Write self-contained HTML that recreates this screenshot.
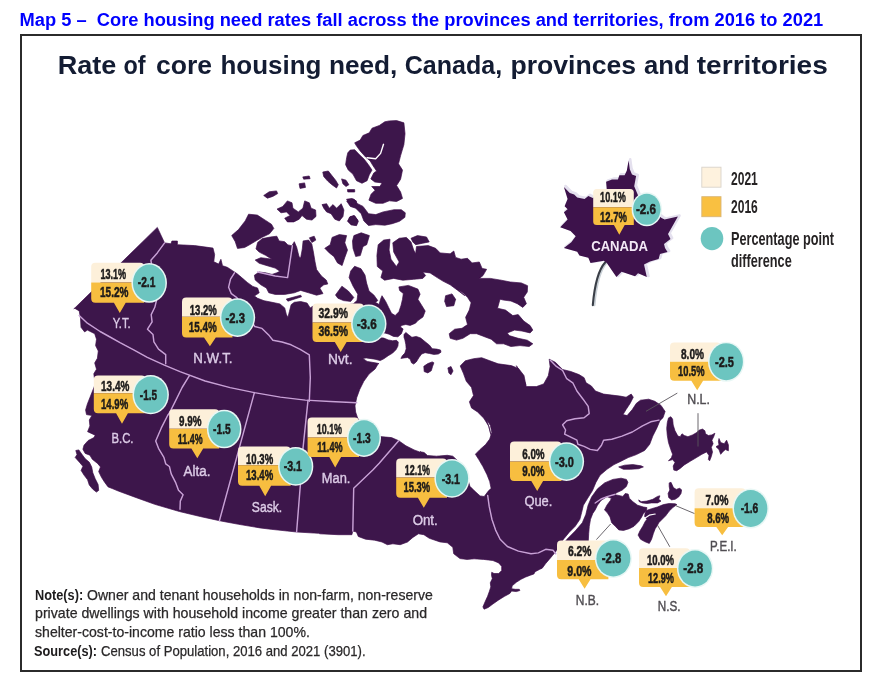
<!DOCTYPE html>
<html lang="en"><head><meta charset="utf-8"><title>Map 5</title>
<style>
html,body{margin:0;padding:0;background:#fff}
body{width:878px;height:682px;position:relative;overflow:hidden;font-family:"Liberation Sans",sans-serif}
.t,.h,.lg,.nt,svg{opacity:.999;will-change:opacity}
.t{position:absolute;left:19.6px;top:8.7px;font-weight:700;font-size:18.3px;line-height:21px;color:#0000ff;white-space:pre}
.frame{position:absolute;box-sizing:border-box;left:20.2px;top:34.3px;width:841.8px;height:638.2px;border:2px solid #2b2b2b}
.h{position:absolute;left:58.6px;top:50.3px;font-weight:700;font-size:25px;line-height:30px;letter-spacing:.73px;color:#131c33;white-space:pre}
.lg{position:absolute;left:730.6px;font-weight:700;font-size:17.6px;line-height:20px;color:#262324;white-space:pre;transform-origin:0 0;transform:scaleX(.70)}
.nt{position:absolute;font-size:14.4px;line-height:16px;color:#2a2829;white-space:pre;transform-origin:0 0;-webkit-text-stroke:.25px #2a2829}
.nt.b{font-weight:700;color:#1d1b1c;-webkit-text-stroke:0}
</style></head><body>
<div class="t">Map 5 –  Core housing need rates fall across the provinces and territories, from 2016 to 2021</div>
<div class="frame"></div>
<svg width="878" height="682" viewBox="0 0 878 682" style="position:absolute;left:0;top:0">
<style>text{font-family:"Liberation Sans",sans-serif;text-anchor:middle}.v{font-weight:700;font-size:14.6px;fill:#1c1a1a;stroke:#1c1a1a;stroke-width:.5px;paint-order:stroke}.w{font-size:14.4px}.n{font-size:13.8px;fill:#dccbe6;stroke:#dccbe6;stroke-width:.4px;paint-order:stroke}.n.d{fill:#504d52;stroke:#504d52}.c{font-weight:700;font-size:13.8px;fill:#f3e8f6}.hd{font-weight:700;font-size:25.2px;fill:#131c33;text-anchor:start}</style>
<defs><filter id="sf" x="-2%" y="-2%" width="104%" height="104%"><feGaussianBlur stdDeviation="0.45"/></filter></defs>
<g filter="url(#sf)">
<g fill="#3d124b" stroke="#3d124b" stroke-width="0.7" stroke-linejoin="round">
<path d="M157.3 227.4 L164.6 242.9 L171.0 243.8 L171.9 241.0 L177.4 241.0 L177.4 244.7 L194.7 245.6 L213.0 248.1 L214.6 254.5 L213.8 261.7 L218.6 264.1 L220.9 259.3 L222.5 265.7 L227.3 267.3 L232.1 270.4 L236.9 273.6 L241.7 277.6 L247.3 282.4 L252.8 286.4 L257.6 288.0 L259.2 292.8 L254.4 296.0 L257.6 298.3 L264.0 300.7 L272.0 302.3 L279.9 303.9 L284.7 307.9 L286.3 314.3 L287.9 317.5 L289.5 311.1 L291.1 304.7 L294.3 302.3 L300.7 301.5 L307.1 303.1 L310.2 307.9 L314.8 305.0 L323.9 306.0 L331.2 305.5 L338.5 305.0 L345.8 305.0 L353.1 304.0 L357.0 300.5 L357.8 294.2 L353.1 286.2 L349.1 277.5 L350.7 271.1 L354.6 266.3 L361.0 268.7 L365.0 275.1 L366.6 283.1 L369.0 291.0 L373.8 295.0 L377.8 300.6 L375.4 302.3 L379.1 304.5 L380.5 299.3 L382.0 295.7 L385.7 301.5 L388.6 307.4 L391.5 313.3 L395.2 315.5 L398.9 311.8 L401.1 305.2 L402.5 299.3 L403.3 293.5 L399.6 290.5 L398.9 286.9 L408.4 285.4 L417.9 289.1 L420.1 294.2 L417.9 299.3 L421.6 305.2 L425.2 311.1 L423.0 316.9 L417.9 320.6 L415.5 323.2 L410.2 325.4 L405.8 324.5 L401.4 325.4 L400.5 327.1 L403.1 328.9 L401.4 333.7 L397.9 336.8 L393.5 336.4 L389.1 334.2 L384.7 332.9 L380.3 335.5 L380.3 337.7 L383.8 338.1 L388.2 339.9 L392.6 340.8 L396.5 340.3 L398.3 342.1 L397.9 346.1 L396.1 349.6 L392.6 353.1 L388.2 355.7 L383.8 358.8 L380.3 360.6 L375.0 359.2 L366.2 357.9 L362.7 358.4 L367.1 361.4 L375.0 362.8 L379.0 363.6 L378.2 363.8 L375.1 369.0 L369.0 374.1 L363.8 381.3 L359.7 389.5 L356.7 397.7 L355.0 405.9 L355.6 412.0 L357.7 418.2 L360.8 422.3 L369.0 430.5 L380.2 436.6 L391.5 437.6 L398.7 440.7 L405.9 445.8 L414.1 449.9 L422.3 453.0 L420.0 451.7 L424.1 452.5 L427.5 455.5 L436.4 456.2 L447.3 455.3 L452.8 456.2 L459.6 462.4 L466.5 474.7 L469.9 486.3 L474.7 491.1 L480.1 495.9 L484.2 496.5 L488.3 491.1 L491.1 488.3 L489.7 481.5 L487.0 474.7 L482.9 466.5 L478.8 459.6 L475.4 454.2 L480.1 449.4 L485.6 444.6 L489.7 439.1 L491.8 432.3 L490.4 425.5 L487.0 420.0 L490.9 434.6 L488.9 426.4 L483.8 418.2 L477.6 412.0 L471.5 407.9 L469.4 401.8 L473.5 395.6 L471.5 387.4 L466.3 381.3 L463.3 373.1 L460.2 365.9 L465.3 360.8 L473.5 358.7 L481.7 357.7 L489.9 360.8 L498.1 363.8 L511.2 365.6 L518.5 368.4 L524.0 375.6 L525.8 384.8 L516.4 365.7 L520.0 372.1 L523.7 379.3 L526.4 386.6 L536.4 386.6 L543.7 383.9 L548.3 375.7 L550.1 366.6 L549.2 359.3 L549.2 359.2 L555.4 362.3 L562.6 369.5 L570.8 371.5 L579.0 374.6 L584.1 377.7 L586.1 382.8 L591.3 385.9 L595.4 391.0 L603.6 394.1 L611.8 395.1 L620.0 396.1 L626.1 397.2 L631.2 394.1 L633.3 397.2 L630.2 403.3 L626.1 409.5 L623.0 414.6 L627.1 415.6 L632.3 409.5 L636.4 403.3 L640.5 400.2 L648.7 399.2 L654.8 401.3 L661.0 405.4 L665.1 411.5 L663.0 417.7 L659.9 420.7 L656.9 427.9 L652.8 436.1 L649.7 444.3 L644.6 450.5 L636.4 454.6 L628.2 457.6 L620.0 461.7 L614.0 464.6 L607.0 469.3 L600.0 475.2 L596.0 482.2 L592.5 490.5 L587.5 498.5 L583.4 505.2 L581.7 512.3 L579.9 519.3 L575.2 526.3 L569.3 532.2 L563.5 539.2 L555.7 551.7 L552.7 555.3 L549.2 559.4 L545.7 563.5 L542.2 568.2 L539.8 569.3 L535.1 571.7 L533.9 574.0 L530.4 575.2 L525.7 577.0 L521.0 579.3 L516.3 582.3 L512.2 585.8 L511.6 588.7 L515.2 589.3 L519.3 589.3 L519.9 590.5 L516.3 591.6 L511.6 591.1 L509.9 593.4 L504.6 596.3 L498.7 599.9 L492.9 604.0 L488.2 607.5 L484.1 609.2 L482.9 606.9 L485.2 601.6 L487.6 596.3 L489.3 591.6 L490.8 586.9 L490.3 582.8 L492.3 578.7 L491.5 575.2 L491.7 572.3 L494.0 573.5 L498.7 573.5 L501.7 570.5 L501.7 566.4 L498.7 562.9 L492.9 560.5 L483.5 559.4 L474.1 558.8 L467.0 559.4 L460.0 558.6 L453.7 553.7 L452.8 547.3 L447.3 542.8 L440.0 541.9 L429.3 538.3 L423.9 534.7 L418.4 533.8 L412.9 537.4 L407.5 542.0 L400.2 544.7 L392.9 543.8 L387.4 544.7 L382.0 542.0 L374.7 540.2 L365.6 539.2 L358.3 536.5 L356.4 532.0 L352.8 531.0 L351.9 534.7 L338.2 534.7 L320.0 533.8 L318.5 533.3 L296.6 532.0 L271.1 529.3 L260.0 527.9 L238.5 524.3 L219.4 520.7 L200.2 516.5 L179.3 511.5 L154.7 504.3 L136.4 497.7 L118.2 491.0 L112.9 488.8 L108.1 486.9 L104.6 482.2 L101.6 477.5 L98.7 471.6 L100.5 466.9 L97.5 463.4 L92.3 459.3 L89.9 455.2 L85.2 453.4 L82.9 449.3 L84.0 445.2 L88.2 440.5 L94.0 437.6 L95.2 435.2 L87.6 431.7 L89.9 425.9 L89.3 420.0 L91.9 415.5 L86.5 414.6 L85.6 410.0 L87.4 403.9 L94.7 385.6 L94.7 380.2 L93.8 373.8 L96.5 369.2 L94.7 362.9 L97.4 358.3 L98.3 351.0 L95.6 345.6 L96.5 339.2 L94.7 333.7 L87.4 330.1 L84.6 331.9 L81.0 327.3 L80.5 318.2 L79.2 310.9 L74.6 308.2 L73.8 309.0 Z"/>
<path d="M557.5 551.5 L567.0 539.2 L575.2 531.0 L582.3 522.8 L585.8 514.6 L588.1 505.2 L591.6 497.0 L597.5 488.8 L604.6 482.9 L612.9 479.4 L621.1 478.2 L626.4 479.4 L627.9 482.3 L626.4 486.4 L622.3 490.0 L617.6 492.3 L614.5 494.0 L615.5 496.0 L610.4 498.0 L607.0 496.6 L601.0 500.5 L597.5 505.2 L595.2 509.9 L592.8 513.4 L590.5 519.3 L589.3 526.3 L588.7 533.4 L588.1 545.0 L575.0 550.0 Z"/>
<path d="M612.9 494.6 L617.6 495.2 L622.9 496.4 L625.2 493.5 L628.2 494.1 L629.3 498.2 L632.9 501.7 L637.6 505.2 L643.4 507.0 L646.9 507.6 L646.4 510.5 L643.4 513.4 L641.7 516.9 L638.7 521.6 L634.0 526.3 L629.3 528.7 L623.5 530.4 L618.8 529.9 L615.3 526.3 L611.7 522.8 L610.0 516.9 L607.0 512.3 L604.5 510.0 L606.9 505.2 L610.4 500.5 Z"/>
<path d="M646.4 510.5 L651.6 508.7 L657.5 507.0 L663.4 504.6 L669.2 503.5 L675.1 503.8 L676.9 504.6 L672.8 507.6 L669.2 511.1 L665.7 515.8 L662.2 519.3 L658.7 522.8 L657.5 525.2 L655.2 528.7 L653.4 533.4 L651.6 539.2 L649.3 543.4 L644.6 541.6 L640.5 539.2 L638.1 535.1 L639.9 531.0 L642.8 526.3 L645.2 521.6 L646.9 519.3 L644.6 516.5 L645.2 512.5 Z"/>
<path d="M669.2 482.9 L671.0 482.3 L673.4 487.6 L676.3 489.4 L679.8 488.2 L681.6 490.0 L681.0 493.5 L678.6 497.0 L675.1 499.3 L671.6 499.9 L668.7 497.6 L668.1 493.5 L669.8 490.0 L669.2 486.4 Z"/>
<path d="M638.7 499.9 L641.1 501.7 L646.9 501.1 L652.8 499.3 L657.5 496.4 L659.9 495.8 L658.7 499.3 L661.0 501.1 L657.5 502.9 L651.6 502.9 L646.9 503.5 L642.3 502.9 L639.3 501.7 Z"/>
<path d="M618.7 466.9 L624.6 465.2 L632.8 464.6 L641.0 465.8 L643.4 466.9 L638.7 468.7 L630.5 469.3 L623.4 469.3 Z"/>
<path d="M670.8 416.7 L672.6 419.1 L673.2 425.0 L675.0 430.8 L677.9 436.1 L680.2 436.7 L682.0 433.8 L684.3 435.5 L687.9 436.7 L692.6 434.9 L696.7 432.6 L699.0 430.2 L702.5 429.1 L704.9 430.8 L705.5 433.8 L708.4 435.5 L711.9 434.9 L714.9 433.2 L713.7 436.7 L711.9 440.2 L713.1 443.7 L711.3 447.3 L712.5 451.9 L711.3 456.6 L709.6 460.8 L708.4 459.6 L709.0 455.5 L706.6 451.9 L701.9 454.3 L696.1 457.8 L690.2 461.3 L684.3 464.9 L680.2 468.4 L676.7 470.7 L673.8 470.1 L673.2 466.0 L675.0 462.5 L672.6 459.6 L668.5 460.8 L671.4 457.8 L672.6 454.3 L670.8 449.6 L668.5 442.6 L667.3 435.5 L666.7 428.5 L667.3 422.6 L668.5 417.9 Z"/>
<path d="M719.0 438.5 L720.7 442.6 L724.2 443.7 L726.6 440.2 L728.4 444.9 L728.4 450.8 L725.4 449.6 L723.1 451.4 L720.7 454.3 L719.0 449.6 L716.0 446.7 L719.0 444.9 L718.4 441.4 Z"/>
<path d="M75.8 450.5 L78.8 449.9 L81.7 454.0 L85.2 458.7 L89.3 462.2 L91.7 466.9 L92.8 472.8 L95.2 478.7 L98.1 484.5 L98.7 490.4 L96.4 492.1 L92.8 489.2 L89.3 485.1 L87.6 479.8 L84.0 475.1 L81.1 470.4 L82.9 466.3 L79.4 462.2 L75.2 457.5 L77.0 454.6 Z"/>
<path d="M231.7 235.5 L238.5 229.6 L245.2 220.9 L248.6 214.2 L257.3 215.1 L265.6 220.4 L271.5 224.3 L273.8 228.5 L269.5 233.8 L262.2 237.3 L256.2 240.8 L250.0 244.5 L244.6 247.5 L237.5 248.4 L235.2 241.6 Z"/>
<path d="M257.6 242.5 L262.4 238.6 L270.4 237.0 L276.8 236.2 L279.1 240.9 L284.7 241.7 L287.9 244.9 L291.9 245.7 L294.3 241.7 L296.7 247.3 L299.1 256.9 L300.7 257.7 L302.3 248.9 L303.1 240.9 L308.6 240.1 L311.8 244.1 L313.4 252.1 L315.0 261.7 L316.6 269.6 L321.4 276.0 L326.2 280.0 L327.8 284.0 L323.8 284.8 L319.8 288.0 L323.0 293.6 L316.6 295.2 L308.6 292.8 L300.7 290.4 L294.3 292.8 L284.7 294.4 L275.2 294.4 L268.8 292.8 L266.4 288.0 L260.8 284.8 L255.2 280.0 L254.4 275.2 L259.2 272.0 L265.6 272.8 L272.0 274.4 L276.8 272.8 L279.9 271.2 L275.2 268.1 L267.2 265.7 L259.2 263.3 L255.2 260.1 L260.8 257.7 L267.2 258.5 L272.0 259.3 L265.6 255.3 L259.2 252.1 L256.0 248.9 Z"/>
<path d="M286.3 299.1 L300.7 295.2 L301.5 296.8 L287.9 301.2 Z"/>
<path d="M309.4 237.8 L314.2 236.2 L315.8 240.1 L311.8 242.5 Z"/>
<path d="M335.5 295.0 L341.9 286.2 L348.3 291.0 L353.8 297.4 L350.7 301.4 L343.5 300.6 L337.9 298.2 Z"/>
<path d="M324.8 248.3 L330.2 244.7 L332.1 237.4 L339.3 234.6 L346.6 235.6 L344.8 242.8 L347.5 250.1 L344.8 257.4 L342.1 265.6 L337.5 262.9 L333.9 256.5 L329.3 252.9 Z"/>
<path d="M353.9 235.6 L361.2 232.8 L369.4 235.6 L366.7 244.7 L363.0 246.5 L360.3 255.6 L355.7 256.5 L353.0 248.3 L352.5 241.0 Z"/>
<path d="M263.7 195.5 L269.2 191.8 L276.5 190.9 L277.7 193.6 L272.8 196.4 L267.4 198.2 Z"/>
<path d="M277.0 209.1 L282.8 206.4 L287.4 200.9 L292.0 202.8 L292.9 208.2 L298.3 211.9 L302.9 208.2 L304.7 200.9 L309.3 202.8 L311.1 208.2 L315.6 210.0 L316.0 216.4 L312.0 220.1 L306.5 219.2 L302.0 215.5 L299.2 219.2 L293.8 221.9 L287.4 221.9 L284.7 218.2 L290.1 215.5 L286.5 211.9 L281.0 212.8 Z"/>
<path d="M322.0 204.6 L326.6 203.7 L329.3 208.2 L333.0 204.6 L336.6 208.2 L341.2 203.7 L343.9 210.0 L343.0 216.4 L339.3 221.0 L334.8 219.2 L331.1 213.7 L326.6 211.9 L323.8 208.2 Z"/>
<path d="M349.4 217.3 L353.9 215.5 L357.6 220.1 L355.7 225.0 L351.2 224.6 L348.5 221.0 Z"/>
<path d="M346.6 200.9 L353.9 199.1 L357.6 203.7 L363.0 206.4 L368.5 213.7 L375.8 214.6 L383.1 211.9 L394.0 209.7 L401.3 209.7 L405.3 212.8 L404.9 217.3 L399.5 221.3 L392.2 223.7 L384.9 225.2 L375.8 224.6 L368.5 225.5 L363.9 221.0 L361.2 213.7 L355.7 208.2 L350.3 206.4 Z"/>
<path d="M356.2 145.5 L354.7 142.8 L360.2 140.1 L362.9 135.5 L369.3 132.8 L372.0 128.2 L379.3 125.5 L384.8 121.8 L389.3 120.9 L396.6 120.6 L403.9 122.8 L405.0 133.7 L403.9 144.6 L400.6 155.6 L398.5 163.8 L402.5 170.1 L400.6 179.2 L396.6 185.6 L400.6 192.0 L402.5 198.4 L396.6 201.5 L389.3 200.8 L383.0 203.3 L375.7 203.3 L368.9 200.2 L371.1 194.2 L375.1 190.2 L371.7 186.5 L379.9 186.5 L382.1 182.9 L374.8 182.0 L370.8 178.9 L373.8 172.9 L376.6 171.0 L372.9 165.6 L370.2 161.0 L365.6 157.0 L360.2 151.0 Z"/>
<path d="M350.2 150.1 L354.7 149.7 L359.3 154.6 L364.2 159.2 L368.4 164.7 L372.0 170.1 L369.3 174.7 L367.1 180.7 L362.0 183.3 L356.5 180.7 L352.9 174.1 L348.3 170.1 L345.6 164.7 L346.7 157.4 L347.8 152.8 Z"/>
<path d="M322.8 172.0 L328.3 171.0 L331.9 175.6 L335.6 180.2 L338.3 184.7 L336.5 188.0 L331.9 184.7 L327.7 181.1 L323.7 176.5 Z"/>
<path d="M341.6 178.9 L346.0 180.2 L348.9 184.7 L346.0 186.5 L342.9 183.8 Z"/>
<path d="M347.4 189.6 L354.7 189.6 L354.7 192.0 L347.8 192.0 Z"/>
<path d="M299.1 183.8 L304.6 182.9 L305.5 187.4 L300.0 188.4 Z"/>
<path d="M302.8 176.9 L309.2 176.0 L310.1 178.7 L303.7 179.2 Z"/>
<path d="M346.5 199.3 L352.0 198.4 L356.5 201.1 L355.6 204.8 L350.2 203.8 Z"/>
<path d="M350.2 216.6 L354.7 215.7 L358.4 221.2 L356.5 225.7 L351.1 224.8 L347.4 221.2 Z"/>
<path d="M378.2 244.7 L383.7 240.1 L390.0 239.2 L389.1 250.1 L391.0 259.2 L396.4 266.5 L399.2 262.0 L393.7 252.0 L392.8 242.8 L399.2 238.3 L406.4 237.4 L411.0 241.9 L413.7 250.1 L415.6 253.8 L416.5 246.5 L428.3 245.6 L435.6 248.3 L440.2 252.9 L450.2 253.8 L453.8 251.0 L455.6 257.4 L461.1 259.2 L467.5 258.3 L472.1 262.9 L479.3 262.0 L482.1 268.4 L486.6 269.3 L483.0 275.6 L479.3 278.4 L490.3 278.4 L501.2 280.2 L510.3 282.0 L521.3 282.9 L527.6 285.7 L527.3 291.9 L523.7 297.3 L526.4 303.7 L522.8 307.4 L517.3 303.7 L510.9 301.0 L503.6 300.1 L500.0 299.2 L497.5 308.2 L505.5 310.1 L512.8 315.6 L518.2 314.6 L523.7 321.0 L530.1 325.6 L532.8 330.1 L530.1 332.9 L521.9 331.0 L514.6 330.1 L507.3 332.9 L509.1 335.6 L518.2 338.3 L527.3 340.2 L532.8 343.8 L529.2 346.5 L520.0 345.6 L510.9 346.5 L503.6 343.8 L496.6 343.8 L491.2 339.2 L483.9 336.5 L476.6 333.7 L470.2 333.7 L462.9 338.3 L456.5 340.1 L450.2 338.3 L449.2 333.7 L454.7 329.2 L462.0 328.3 L467.5 324.6 L465.6 317.3 L469.3 310.0 L471.1 302.8 L467.5 297.3 L462.9 292.7 L458.4 290.0 L464.8 295.7 L457.5 290.2 L450.2 284.8 L442.9 281.1 L435.6 276.6 L430.1 272.9 L422.8 272.0 L425.6 275.6 L422.8 278.4 L413.7 279.3 L402.8 280.2 L393.7 278.4 L384.6 280.2 L380.9 277.5 L382.8 271.1 L377.3 266.5 L376.9 255.6 Z"/>
<path d="M411.0 238.3 L417.4 235.6 L426.5 237.0 L429.2 241.9 L422.8 243.2 L415.6 244.7 L412.8 241.9 Z"/>
<path d="M445.6 295.7 L452.0 293.9 L455.6 299.3 L453.8 305.7 L446.5 306.6 L444.7 301.2 Z"/>
<path d="M404.0 334.6 L405.8 332.4 L408.4 334.6 L411.9 337.3 L416.3 336.4 L420.7 338.1 L425.1 341.7 L429.5 345.2 L432.2 348.7 L436.6 349.1 L440.5 350.0 L441.0 352.2 L438.3 354.0 L433.9 354.4 L429.5 353.5 L425.1 352.7 L421.6 354.0 L419.0 357.5 L416.3 361.9 L413.7 364.1 L411.5 362.8 L410.2 359.2 L407.5 357.5 L404.0 357.9 L400.9 358.4 L402.3 355.7 L404.9 353.1 L406.2 348.7 L405.8 344.3 L404.9 339.9 L404.0 337.3 Z"/>
<path d="M423.8 366.3 L427.8 363.6 L432.2 361.9 L433.9 362.8 L432.6 366.3 L431.3 370.7 L427.8 372.9 L424.2 371.6 Z"/>
<path d="M447.9 367.9 L451.0 366.5 L453.0 371.0 L451.0 374.7 L448.9 373.1 Z"/>
</g>
<g fill="none" stroke="#fff" stroke-linecap="round" stroke-linejoin="round">
<path d="M367.1 157.7 L375.7 158.8 L380.6 153.4 L383.5 144.3" stroke-width="1.4"/>
<path d="M644.0 518.7 L649.3 515.2 L655.2 514.0" stroke-width="1.2"/>
<path d="M557.2 551.0 L561.0 544.5 L565.2 539.2" stroke-width="1.2"/>
</g>
<g fill="none" stroke="#c7a2d5" stroke-width="1.45" stroke-linejoin="round" stroke-linecap="round">
<path d="M79.2 315.5 L87.4 323.2 L100.1 331.5 L110.0 337.0 L120.0 342.6 L133.7 349.8 L147.3 357.3 L164.4 365.2 L180.0 371.6 L205.1 381.0 L230.1 387.6 L254.4 392.6 L280.3 397.1 L305.3 400.1 L330.4 401.5 L356.7 402.7"/>
<path d="M164.6 242.9 L157.3 252.9 L150.9 260.2 L156.6 300.0 L154.8 307.3 L151.2 314.6 L152.1 321.9 L147.5 329.2 L153.0 334.6 L153.9 341.9 L158.5 349.2 L165.7 354.7 L165.7 363.8"/>
<path d="M189.4 375.6 L182.1 387.5 L174.9 402.1 L169.4 413.0 L167.6 415.5 L161.2 428.2 L155.7 441.0 L158.5 448.3 L163.9 457.4 L165.7 463.8 L169.4 466.5 L171.2 473.8 L175.8 482.9 L178.5 490.2 L183.1 494.7 L180.3 501.1 L180.0 509.3"/>
<path d="M254.4 392.6 L219.4 520.7"/>
<path d="M308.0 400.3 L302.8 450.2 L300.3 485.6 L296.6 532.0"/>
<path d="M398.7 440.7 L391.5 448.9 L379.2 463.3 L372.8 470.0 L353.7 488.2 L352.8 531.0"/>
<path d="M487.7 495.5 L489.2 506.4 L491.9 519.2 L495.6 530.1 L500.1 539.2 L507.4 546.5 L518.4 551.1 L531.1 553.8 L538.4 552.9 L545.7 549.3 L553.0 550.2 L555.7 553.8"/>
<path d="M550.3 360.3 L556.4 366.4 L562.6 370.5 L566.7 378.7 L572.8 382.8 L576.9 391.0 L583.1 399.2 L588.2 406.4 L589.2 413.6 L584.1 417.7 L574.9 418.7 L566.7 420.7 L562.6 424.8 L565.6 430.0 L564.6 434.1 L570.8 437.1 L576.9 440.2 L577.9 444.3 L584.1 446.4 L590.2 449.4 L597.4 450.5 L601.5 445.3 L603.6 440.2 L611.8 439.2 L622.0 436.1 L632.3 432.0 L642.5 425.9 L650.7 421.8 L658.9 420.1"/>
<path d="M292.4 245.7 L287.6 277.6 L275.2 276.0 L257.6 272.0"/>
<path d="M234.5 272.8 L230.5 279.2 L228.6 287.2 L231.3 293.6 L236.9 297.6 L254.7 326.5 L262.0 328.4 L269.2 335.6 L272.9 340.2 L282.0 342.0 L291.1 344.8 L300.2 349.3 L309.3 354.8 L310.3 377.6 L309.3 401.3"/>
<path d="M595.2 503.0 L601.0 499.0 L607.0 496.6 L614.5 494.5"/>
</g>
</g>
<path d="M628.6 160.4 L629.8 169.2 L632.0 174.4 L636.1 175.9 L634.2 186.3 L640.0 200.0 L661.6 218.1 L664.6 219.6 L677.9 216.6 L672.0 227.0 L668.0 234.0 L670.5 239.0 L664.0 244.0 L665.0 248.0 L667.5 252.0 L660.0 254.0 L658.6 259.0 L650.0 261.5 L644.0 264.5 L646.8 277.0 L638.0 273.3 L635.0 276.3 L621.6 271.8 L616.4 277.0 L606.8 263.0 L603.9 260.7 L590.5 262.9 L588.3 257.8 L579.4 255.5 L577.2 251.8 L563.9 248.1 L571.3 242.2 L575.7 236.3 L570.5 231.1 L560.2 227.2 L567.6 219.6 L563.9 212.2 L567.6 209.2 L564.6 206.3 L567.6 198.9 L563.9 187.0 L569.8 193.0 L574.2 194.4 L577.2 197.4 L584.6 198.9 L588.3 195.9 L592.8 198.1 L606.8 190.0 L606.1 181.8 L612.0 179.6 L617.9 179.6 L619.4 175.2 L624.6 175.2 L626.8 170.7 Z" fill="#e4e0ee" stroke="#e4e0ee" stroke-width="2.6" stroke-linejoin="round" transform="translate(1.6 -1.0)"/>
<path d="M605.3 262.2 C600 268 595 280 592.8 305.1" fill="none" stroke="#c9d0d6" stroke-width="2.2" stroke-linecap="round" transform="translate(1.6 0)"/>
<path d="M605.3 262.2 C600 268 595 280 592.8 305.1" fill="none" stroke="#3a3f47" stroke-width="2.1" stroke-linecap="round"/>
<path d="M628.6 160.4 L629.8 169.2 L632.0 174.4 L636.1 175.9 L634.2 186.3 L640.0 200.0 L661.6 218.1 L664.6 219.6 L677.9 216.6 L672.0 227.0 L668.0 234.0 L670.5 239.0 L664.0 244.0 L665.0 248.0 L667.5 252.0 L660.0 254.0 L658.6 259.0 L650.0 261.5 L644.0 264.5 L646.8 277.0 L638.0 273.3 L635.0 276.3 L621.6 271.8 L616.4 277.0 L606.8 263.0 L603.9 260.7 L590.5 262.9 L588.3 257.8 L579.4 255.5 L577.2 251.8 L563.9 248.1 L571.3 242.2 L575.7 236.3 L570.5 231.1 L560.2 227.2 L567.6 219.6 L563.9 212.2 L567.6 209.2 L564.6 206.3 L567.6 198.9 L563.9 187.0 L569.8 193.0 L574.2 194.4 L577.2 197.4 L584.6 198.9 L588.3 195.9 L592.8 198.1 L606.8 190.0 L606.1 181.8 L612.0 179.6 L617.9 179.6 L619.4 175.2 L624.6 175.2 L626.8 170.7 Z" fill="#3d124b"/>
<g stroke="#5a565c" stroke-width="0.9" fill="none">
<path d="M677.3 393.1 L646.0 411.3"/>
<path d="M698.0 413.2 L698.0 446.5"/>
<path d="M694.6 513.6 L675.1 505.4"/>
<path d="M596.4 539.6 L610.6 524.0"/>
<path d="M669.8 546.8 L657.5 525.2"/>
</g>
<path d="M95.4 262.8 H140.0 Q144.2 262.8 144.2 267.0 V282.5 H91.2 V267.0 Q91.2 262.8 95.4 262.8 Z" fill="#fdf0da"/>
<path d="M91.2 282.5 H144.2 V302.8 H125.7 L119.8 312.9 L113.9 302.8 H95.4 Q91.2 302.8 91.2 298.6 Z" fill="#f7be40"/>
<ellipse cx="149.2" cy="282.9" rx="17.75" ry="19.80" fill="#e8f7f5"/>
<ellipse cx="149.2" cy="282.9" rx="16.25" ry="18.30" fill="#6cc5c0"/>
<text class="v" x="113.3" y="279.4" textLength="25.8" lengthAdjust="spacingAndGlyphs">13.1%</text>
<text class="v" x="114.2" y="297.0" textLength="28.4" lengthAdjust="spacingAndGlyphs">15.2%</text>
<text class="v w" x="146.6" y="287.0" textLength="17.6" lengthAdjust="spacingAndGlyphs">-2.1</text>
<text class="n" x="121.7" y="328.3" textLength="17.9" lengthAdjust="spacingAndGlyphs">Y.T.</text>
<path d="M186.2 297.5 H228.3 Q232.5 297.5 232.5 301.7 V316.8 H182.0 V301.7 Q182.0 297.5 186.2 297.5 Z" fill="#fdf0da"/>
<path d="M182.0 316.8 H232.5 V337.5 H215.8 L209.9 346.3 L204.0 337.5 H186.2 Q182.0 337.5 182.0 333.3 Z" fill="#f7be40"/>
<ellipse cx="237.5" cy="317.6" rx="17.65" ry="19.30" fill="#e8f7f5"/>
<ellipse cx="237.5" cy="317.6" rx="16.15" ry="17.80" fill="#6cc5c0"/>
<text class="v" x="203.3" y="314.6" textLength="27.1" lengthAdjust="spacingAndGlyphs">13.2%</text>
<text class="v" x="202.8" y="331.8" textLength="28.0" lengthAdjust="spacingAndGlyphs">15.4%</text>
<text class="v w" x="235.2" y="323.2" textLength="19.4" lengthAdjust="spacingAndGlyphs">-2.3</text>
<text class="n" x="212.9" y="363.3" textLength="39.2" lengthAdjust="spacingAndGlyphs">N.W.T.</text>
<path d="M316.7 303.6 H359.6 Q363.8 303.6 363.8 307.8 V322.6 H312.5 V307.8 Q312.5 303.6 316.7 303.6 Z" fill="#fdf0da"/>
<path d="M312.5 322.6 H363.8 V342.0 H346.6 L340.7 352.0 L334.8 342.0 H316.7 Q312.5 342.0 312.5 337.8 Z" fill="#f7be40"/>
<ellipse cx="368.8" cy="323.8" rx="17.70" ry="19.30" fill="#e8f7f5"/>
<ellipse cx="368.8" cy="323.8" rx="16.20" ry="17.80" fill="#6cc5c0"/>
<text class="v" x="333.2" y="318.2" textLength="29.5" lengthAdjust="spacingAndGlyphs">32.9%</text>
<text class="v" x="333.2" y="336.4" textLength="29.5" lengthAdjust="spacingAndGlyphs">36.5%</text>
<text class="v w" x="366.7" y="328.8" textLength="20.1" lengthAdjust="spacingAndGlyphs">-3.6</text>
<text class="n" x="340.3" y="363.5" textLength="24.4" lengthAdjust="spacingAndGlyphs">Nvt.</text>
<path d="M98.0 375.6 H141.5 Q145.7 375.6 145.7 379.8 V393.2 H93.8 V379.8 Q93.8 375.6 98.0 375.6 Z" fill="#fdf0da"/>
<path d="M93.8 393.2 H145.7 V413.2 H127.9 L122.0 423.7 L116.1 413.2 H98.0 Q93.8 413.2 93.8 409.0 Z" fill="#f7be40"/>
<ellipse cx="150.7" cy="394.7" rx="18.20" ry="19.65" fill="#e8f7f5"/>
<ellipse cx="150.7" cy="394.7" rx="16.70" ry="18.15" fill="#6cc5c0"/>
<text class="v" x="115.2" y="390.9" textLength="28.3" lengthAdjust="spacingAndGlyphs">13.4%</text>
<text class="v" x="114.6" y="408.5" textLength="27.1" lengthAdjust="spacingAndGlyphs">14.9%</text>
<text class="v w" x="148.4" y="400.3" textLength="17.1" lengthAdjust="spacingAndGlyphs">-1.5</text>
<text class="n" x="122.5" y="442.5" textLength="22.1" lengthAdjust="spacingAndGlyphs">B.C.</text>
<path d="M173.4 409.3 H215.0 Q219.2 409.3 219.2 413.5 V428.8 H169.2 V413.5 Q169.2 409.3 173.4 409.3 Z" fill="#fdf0da"/>
<path d="M169.2 428.8 H219.2 V448.4 H203.2 L197.3 458.3 L191.4 448.4 H173.4 Q169.2 448.4 169.2 444.2 Z" fill="#f7be40"/>
<ellipse cx="224.2" cy="429.0" rx="17.30" ry="19.35" fill="#e8f7f5"/>
<ellipse cx="224.2" cy="429.0" rx="15.80" ry="17.85" fill="#6cc5c0"/>
<text class="v" x="190.2" y="426.1" textLength="22.4" lengthAdjust="spacingAndGlyphs">9.9%</text>
<text class="v" x="190.2" y="443.7" textLength="24.7" lengthAdjust="spacingAndGlyphs">11.4%</text>
<text class="v w" x="221.9" y="433.7" textLength="17.7" lengthAdjust="spacingAndGlyphs">-1.5</text>
<text class="n" x="197.0" y="475.9" textLength="26.8" lengthAdjust="spacingAndGlyphs">Alta.</text>
<path d="M242.2 446.5 H286.5 Q290.7 446.5 290.7 450.7 V465.2 H238.0 V450.7 Q238.0 446.5 242.2 446.5 Z" fill="#fdf0da"/>
<path d="M238.0 465.2 H290.7 V485.8 H271.1 L265.2 496.3 L259.3 485.8 H242.2 Q238.0 485.8 238.0 481.6 Z" fill="#f7be40"/>
<ellipse cx="295.7" cy="466.4" rx="17.60" ry="19.35" fill="#e8f7f5"/>
<ellipse cx="295.7" cy="466.4" rx="16.10" ry="17.85" fill="#6cc5c0"/>
<text class="v" x="259.6" y="463.5" textLength="27.1" lengthAdjust="spacingAndGlyphs">10.3%</text>
<text class="v" x="259.6" y="479.9" textLength="27.1" lengthAdjust="spacingAndGlyphs">13.4%</text>
<text class="v w" x="292.8" y="471.1" textLength="18.3" lengthAdjust="spacingAndGlyphs">-3.1</text>
<text class="n" x="267.0" y="511.6" textLength="30.3" lengthAdjust="spacingAndGlyphs">Sask.</text>
<path d="M311.8 417.6 H354.8 Q359.0 417.6 359.0 421.8 V437.6 H307.6 V421.8 Q307.6 417.6 311.8 417.6 Z" fill="#fdf0da"/>
<path d="M307.6 437.6 H359.0 V456.9 H341.1 L335.2 467.5 L329.3 456.9 H311.8 Q307.6 456.9 307.6 452.7 Z" fill="#f7be40"/>
<ellipse cx="364.0" cy="437.9" rx="17.00" ry="19.05" fill="#e8f7f5"/>
<ellipse cx="364.0" cy="437.9" rx="15.50" ry="17.55" fill="#6cc5c0"/>
<text class="v" x="329.4" y="433.5" textLength="25.4" lengthAdjust="spacingAndGlyphs">10.1%</text>
<text class="v" x="329.9" y="452.2" textLength="25.3" lengthAdjust="spacingAndGlyphs">11.4%</text>
<text class="v w" x="361.9" y="442.9" textLength="17.7" lengthAdjust="spacingAndGlyphs">-1.3</text>
<text class="n" x="336.1" y="482.8" textLength="28.6" lengthAdjust="spacingAndGlyphs">Man.</text>
<path d="M400.4 458.5 H442.8 Q447.0 458.5 447.0 462.7 V477.6 H396.2 V462.7 Q396.2 458.5 400.4 458.5 Z" fill="#fdf0da"/>
<path d="M396.2 477.6 H447.0 V497.8 H429.7 L423.8 507.7 L417.9 497.8 H400.4 Q396.2 497.8 396.2 493.6 Z" fill="#f7be40"/>
<ellipse cx="452.0" cy="478.4" rx="17.60" ry="19.35" fill="#e8f7f5"/>
<ellipse cx="452.0" cy="478.4" rx="16.10" ry="17.85" fill="#6cc5c0"/>
<text class="v" x="417.4" y="474.9" textLength="25.4" lengthAdjust="spacingAndGlyphs">12.1%</text>
<text class="v" x="416.8" y="491.9" textLength="26.6" lengthAdjust="spacingAndGlyphs">15.3%</text>
<text class="v w" x="450.8" y="483.7" textLength="18.3" lengthAdjust="spacingAndGlyphs">-3.1</text>
<text class="n" x="425.2" y="524.8" textLength="25.1" lengthAdjust="spacingAndGlyphs">Ont.</text>
<path d="M514.2 441.6 H557.3 Q561.5 441.6 561.5 445.8 V461.6 H510.0 V445.8 Q510.0 441.6 514.2 441.6 Z" fill="#fdf0da"/>
<path d="M510.0 461.6 H561.5 V480.9 H543.1 L537.2 490.9 L531.3 480.9 H514.2 Q510.0 480.9 510.0 476.7 Z" fill="#f7be40"/>
<ellipse cx="566.5" cy="461.6" rx="17.60" ry="19.35" fill="#e8f7f5"/>
<ellipse cx="566.5" cy="461.6" rx="16.10" ry="17.85" fill="#6cc5c0"/>
<text class="v" x="533.4" y="458.6" textLength="22.4" lengthAdjust="spacingAndGlyphs">6.0%</text>
<text class="v" x="533.4" y="476.2" textLength="22.4" lengthAdjust="spacingAndGlyphs">9.0%</text>
<text class="v w" x="564.5" y="467.4" textLength="18.9" lengthAdjust="spacingAndGlyphs">-3.0</text>
<text class="n" x="538.4" y="506.2" textLength="28.0" lengthAdjust="spacingAndGlyphs">Que.</text>
<path d="M674.2 342.6 H717.0 Q721.2 342.6 721.2 346.8 V361.8 H670.0 V346.8 Q670.0 342.6 674.2 342.6 Z" fill="#fdf0da"/>
<path d="M670.0 361.8 H721.2 V380.8 H703.1 L697.2 390.2 L691.3 380.8 H674.2 Q670.0 380.8 670.0 376.6 Z" fill="#f7be40"/>
<ellipse cx="726.2" cy="361.7" rx="18.20" ry="20.00" fill="#e8f7f5"/>
<ellipse cx="726.2" cy="361.7" rx="16.70" ry="18.50" fill="#6cc5c0"/>
<text class="v" x="692.5" y="358.5" textLength="23.0" lengthAdjust="spacingAndGlyphs">8.0%</text>
<text class="v" x="691.3" y="375.5" textLength="26.5" lengthAdjust="spacingAndGlyphs">10.5%</text>
<text class="v w" x="724.5" y="366.7" textLength="18.9" lengthAdjust="spacingAndGlyphs">-2.5</text>
<text class="n d" x="698.6" y="404.2" textLength="22.7" lengthAdjust="spacingAndGlyphs">N.L.</text>
<path d="M698.8 488.2 H741.5 Q745.7 488.2 745.7 492.4 V508.2 H694.6 V492.4 Q694.6 488.2 698.8 488.2 Z" fill="#fdf0da"/>
<path d="M694.6 508.2 H745.7 V526.9 H728.1 L722.2 535.2 L716.3 526.9 H698.8 Q694.6 526.9 694.6 522.7 Z" fill="#f7be40"/>
<ellipse cx="750.7" cy="508.5" rx="18.20" ry="20.00" fill="#e8f7f5"/>
<ellipse cx="750.7" cy="508.5" rx="16.70" ry="18.50" fill="#6cc5c0"/>
<text class="v" x="717.0" y="504.6" textLength="23.0" lengthAdjust="spacingAndGlyphs">7.0%</text>
<text class="v" x="718.1" y="523.4" textLength="21.9" lengthAdjust="spacingAndGlyphs">8.6%</text>
<text class="v w" x="749.5" y="513.4" textLength="17.7" lengthAdjust="spacingAndGlyphs">-1.6</text>
<text class="n d" x="723.4" y="551.0" textLength="26.8" lengthAdjust="spacingAndGlyphs">P.E.I.</text>
<path d="M561.2 540.6 H604.2 Q608.4 540.6 608.4 544.8 V559.9 H557.0 V544.8 Q557.0 540.6 561.2 540.6 Z" fill="#fdf0da"/>
<path d="M557.0 559.9 H608.4 V579.3 H590.5 L584.6 588.7 L578.7 579.3 H561.2 Q557.0 579.3 557.0 575.1 Z" fill="#f7be40"/>
<ellipse cx="613.4" cy="558.5" rx="18.50" ry="19.40" fill="#e8f7f5"/>
<ellipse cx="613.4" cy="558.5" rx="17.00" ry="17.90" fill="#6cc5c0"/>
<text class="v" x="579.7" y="555.8" textLength="23.6" lengthAdjust="spacingAndGlyphs">6.2%</text>
<text class="v" x="579.4" y="575.8" textLength="24.2" lengthAdjust="spacingAndGlyphs">9.0%</text>
<text class="v w" x="611.6" y="563.4" textLength="19.5" lengthAdjust="spacingAndGlyphs">-2.8</text>
<text class="n d" x="587.5" y="604.5" textLength="23.3" lengthAdjust="spacingAndGlyphs">N.B.</text>
<path d="M643.2 548.2 H685.9 Q690.1 548.2 690.1 552.4 V567.9 H639.0 V552.4 Q639.0 548.2 643.2 548.2 Z" fill="#fdf0da"/>
<path d="M639.0 567.9 H690.1 V586.9 H671.9 L666.0 596.3 L660.1 586.9 H643.2 Q639.0 586.9 639.0 582.7 Z" fill="#f7be40"/>
<ellipse cx="695.1" cy="568.5" rx="18.20" ry="19.40" fill="#e8f7f5"/>
<ellipse cx="695.1" cy="568.5" rx="16.70" ry="17.90" fill="#6cc5c0"/>
<text class="v" x="660.5" y="564.6" textLength="27.1" lengthAdjust="spacingAndGlyphs">10.0%</text>
<text class="v" x="661.0" y="582.8" textLength="26.0" lengthAdjust="spacingAndGlyphs">12.9%</text>
<text class="v w" x="693.3" y="573.4" textLength="20.1" lengthAdjust="spacingAndGlyphs">-2.8</text>
<text class="n d" x="669.2" y="611.0" textLength="22.7" lengthAdjust="spacingAndGlyphs">N.S.</text>
<path d="M596.8 188.9 H630.2 Q633.8 188.9 633.8 192.5 V207.2 H593.2 V192.5 Q593.2 188.9 596.8 188.9 Z" fill="#fdf0da"/>
<path d="M593.2 207.2 H633.8 V225.1 H624.7 L619.3 234.8 L613.9 225.1 H596.8 Q593.2 225.1 593.2 221.5 Z" fill="#f7be40"/>
<ellipse cx="646.8" cy="209.2" rx="15.20" ry="17.00" fill="#e8f7f5"/>
<ellipse cx="646.8" cy="209.2" rx="13.70" ry="15.50" fill="#6cc5c0"/>
<text class="v" x="613.0" y="201.5" textLength="25.8" lengthAdjust="spacingAndGlyphs">10.1%</text>
<text class="v" x="613.5" y="221.5" textLength="26.8" lengthAdjust="spacingAndGlyphs">12.7%</text>
<text class="v w" x="646.0" y="214.3" textLength="20.1" lengthAdjust="spacingAndGlyphs">-2.6</text>
<text class="c" x="619.6" y="250.8" textLength="56.8" lengthAdjust="spacingAndGlyphs">CANADA</text>
<text class="hd" x="57.66" y="73.9" textLength="58.68" lengthAdjust="spacingAndGlyphs">Rate</text>
<text class="hd" x="123.44" y="73.9" textLength="22.08" lengthAdjust="spacingAndGlyphs">of</text>
<text class="hd" x="155.98" y="73.9" textLength="56.12" lengthAdjust="spacingAndGlyphs">core</text>
<text class="hd" x="220.42" y="73.9" textLength="100.98" lengthAdjust="spacingAndGlyphs">housing</text>
<text class="hd" x="328.92" y="73.9" textLength="68.48" lengthAdjust="spacingAndGlyphs">need,</text>
<text class="hd" x="404.72" y="73.9" textLength="97.40" lengthAdjust="spacingAndGlyphs">Canada,</text>
<text class="hd" x="510.40" y="73.9" textLength="125.70" lengthAdjust="spacingAndGlyphs">provinces</text>
<text class="hd" x="644.00" y="73.9" textLength="45.66" lengthAdjust="spacingAndGlyphs">and</text>
<text class="hd" x="696.76" y="73.9" textLength="131.12" lengthAdjust="spacingAndGlyphs">territories</text>
<rect x="701.8" y="167.2" width="19.2" height="20" fill="#fef2de" stroke="#d9d3cb" stroke-width="0.9"/>
<rect x="701.8" y="196.7" width="19.2" height="20" fill="#f9c041" stroke="#d9b678" stroke-width="0.9"/>
<ellipse cx="712.0" cy="238.6" rx="11.3" ry="11.7" fill="#6cc5c0"/>
</svg>
<div class="lg" style="top:169.3px;transform:scaleX(.685)">2021</div>
<div class="lg" style="top:196.7px;transform:scaleX(.685)">2016</div>
<div class="lg" style="top:229.3px;transform:scaleX(.722)">Percentage point</div>
<div class="lg" style="top:250.8px;transform:scaleX(.722)">difference</div>
<div class="nt b" style="top:586.5px;left:34.6px;transform:scaleX(0.886)">Note(s):</div>
<div class="nt" style="top:586.5px;left:86.7px;transform:scaleX(0.978)">Owner and tenant households in non-farm, non-reserve</div>
<div class="nt" style="top:605.3px;left:34.6px;transform:scaleX(0.984)">private dwellings with household income greater than zero and</div>
<div class="nt" style="top:624.1px;left:34.8px;transform:scaleX(0.979)">shelter-cost-to-income ratio less than 100%.</div>
<div class="nt b" style="top:642.9px;left:34.4px;transform:scaleX(0.886)">Source(s):</div>
<div class="nt" style="top:642.9px;left:100.6px;transform:scaleX(0.911)">Census of Population, 2016 and 2021 (3901).</div>
</body></html>
